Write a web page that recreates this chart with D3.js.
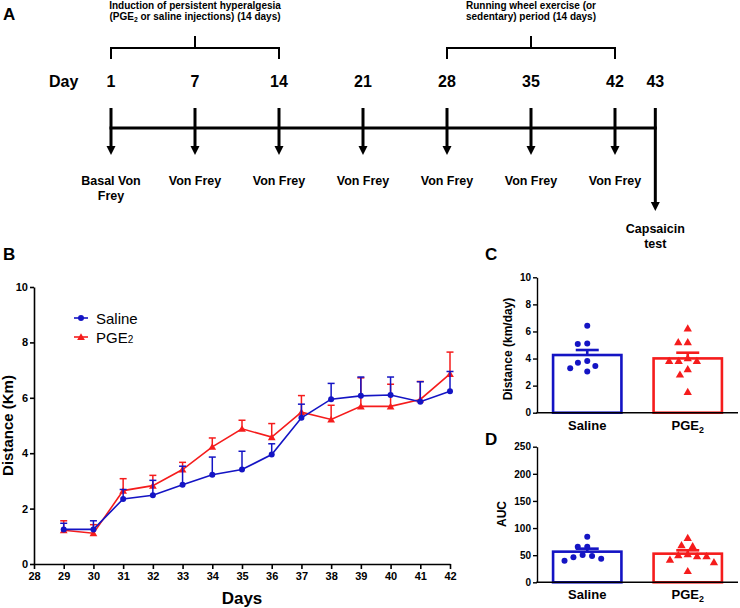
<!DOCTYPE html>
<html><head><meta charset="utf-8">
<script src="https://cdn.jsdelivr.net/npm/d3@7"></script>
<style>body{margin:0;background:#fff} svg{display:block;font-family:Arial,"Liberation Sans",sans-serif}</style>
</head><body><svg id="c" width="740" height="608"></svg>
<script>
// ---------- DATA ----------
const timelineDays = ["1","7","14","21","28","35","42","43"];
const timelineSlots = [0,1,2,3,4,5,6,6.48];
const timelineTests = [["Basal Von","Frey"],["Von Frey"],["Von Frey"],["Von Frey"],["Von Frey"],["Von Frey"],["Von Frey"],["Capsaicin","test"]];
const periodFrom = [0,4];
const periodTo = [2,6];
const periodText = [["Induction of persistent hyperalgesia","(PGE₂ or saline injections) (14 days)"],["Running wheel exercise (or","sedentary) period (14 days)"]];

const days = [29,30,31,32,33,34,35,36,37,38,39,40,41,42];
const salineMean = [1.25,1.25,2.35,2.48,2.86,3.22,3.41,3.95,5.28,5.95,6.07,6.10,5.86,6.24];
const salineSem  = [0.22,0.31,0.34,0.54,0.67,0.64,0.66,0.39,0.49,0.57,0.68,0.65,0.72,0.71];
const pgeMean    = [1.22,1.11,2.65,2.83,3.41,4.23,4.88,4.58,5.48,5.22,5.69,5.69,5.94,6.86];
const pgeSem     = [0.34,0.31,0.43,0.37,0.26,0.32,0.31,0.49,0.60,0.51,1.03,0.80,0.65,0.79];
const xTicksB = [28,29,30,31,32,33,34,35,36,37,38,39,40,41,42];
const yTicksB = [0,2,4,6,8,10];

const groups = ["Saline","PGE₂"];
const distSaline = [6.43,5.12,5.07,3.82,3.69,3.45,3.28,3.05];
const distPge = [6.23,5.22,5.22,4.04,3.84,3.84,3.84,3.23,2.83,1.55];
const distMean = [4.26,4.01];
const distSem = [0.37,0.42];
const yTicksC = [0,2,4,6,8,10];

const aucSaline = [84,65.7,65.7,50.4,48.5,46,43.6,39.9];
const aucPge = [82,67,68.8,52,50.4,48.5,48.5,42,37.5,21];
const aucMean = [56.5,52.8];
const aucSem = [5.5,6.2];
const yTicksD = [0,50,100,150,200,250];

// ---------- STYLE ----------
const BLUE = "#1414c4", RED = "#f51c1c";
const svg = d3.select("#c");

function rich(textSel, str, size) {
  const parts = str.split("₂");
  parts.forEach((p, i) => {
    const t = textSel.append("tspan").text(p);
    if (i > 0) t.attr("dy", -size * 0.22);
    if (i < parts.length - 1) {
      textSel.append("tspan").attr("font-size", size * 0.68).attr("dy", size * 0.22).text("2");
    }
  });
  return textSel;
}

function label(x, y, s) {
  svg.append("text").attr("x", x).attr("y", y).attr("font-size", 17).attr("font-weight", "bold").text(s);
}

// ---------- PANEL A ----------
label(3, 20, "A");
const xA = d3.scaleLinear().domain([0, 6]).range([111, 615]);
const gA = svg.append("g");
gA.append("text").attr("x", 49).attr("y", 87).attr("font-size", 16).attr("font-weight", "bold").text("Day");
timelineDays.forEach((d, i) => {
  const x = xA(timelineSlots[i]);
  gA.append("text").attr("x", x).attr("y", 87).attr("text-anchor", "middle")
    .attr("font-size", 16).attr("font-weight", "bold").text(d);
  const tip = i === timelineDays.length - 1 ? 211 : 155;
  gA.append("line").attr("x1", x).attr("x2", x).attr("y1", 108).attr("y2", tip - 7)
    .attr("stroke", "#000").attr("stroke-width", 3);
  gA.append("path").attr("d", `M${x-4.5},${tip-9}L${x+4.5},${tip-9}L${x},${tip}Z`).attr("fill", "#000");
  const lines = timelineTests[i];
  const y0 = i === timelineDays.length - 1 ? 233 : 185;
  lines.forEach((ln, j) => {
    gA.append("text").attr("x", x).attr("y", y0 + j * 15).attr("text-anchor", "middle")
      .attr("font-size", 12.5).attr("font-weight", "bold").text(ln);
  });
});
gA.append("line").attr("x1", xA(0) - 1.5).attr("x2", xA(timelineSlots[7]) + 1.5).attr("y1", 128).attr("y2", 128)
  .attr("stroke", "#000").attr("stroke-width", 3);
periodFrom.forEach((f, i) => {
  const x1 = xA(f), x2 = xA(periodTo[i]), xm = (x1 + x2) / 2;
  gA.append("path").attr("d", `M${x1},59V48H${x2}V59M${xm},48V36`).attr("fill", "none")
    .attr("stroke", "#000").attr("stroke-width", 2);
  periodText[i].forEach((t, j) => {
    rich(gA.append("text").attr("x", xm).attr("y", 8.5 + j * 11.5).attr("text-anchor", "middle")
      .attr("font-size", 10).attr("font-weight", "bold"), t, 10);
  });
});

// ---------- PANEL B ----------
label(3, 260, "B");
const xB = d3.scaleLinear().domain([28, 42]).range([34, 450]);
const yB = d3.scaleLinear().domain([0, 10]).range([564, 287]);
const gB = svg.append("g");
const axB = gB.append("g").attr("transform", "translate(0,564)")
  .call(d3.axisBottom(xB).tickValues(xTicksB).tickFormat(d3.format("d")).tickSize(5).tickPadding(3).tickSizeOuter(0));
const ayB = gB.append("g").attr("transform", "translate(34,0)")
  .call(d3.axisLeft(yB).tickValues(yTicksB).tickSize(4).tickPadding(2).tickSizeOuter(0));
[axB, ayB].forEach(a => {
  a.selectAll("path,line").attr("stroke", "#000").attr("stroke-width", 1.6);
  a.selectAll("text").attr("font-size", 11).attr("font-weight", "bold").attr("fill", "#000").attr("font-family", "Arial,'Liberation Sans',sans-serif");
});
gB.append("text").attr("x", 242).attr("y", 604).attr("text-anchor", "middle").attr("font-size", 17).attr("font-weight", "bold").text("Days");
gB.append("text").attr("transform", `translate(13,${yB(5)}) rotate(-90)`).attr("text-anchor", "middle")
  .attr("font-size", 15).attr("font-weight", "bold").text("Distance (Km)");

const seriesB = [
  {mean: salineMean, sem: salineSem, color: BLUE, sym: null},
  {mean: pgeMean, sem: pgeSem, color: RED, sym: d3.symbolTriangle}
];
[seriesB[1], seriesB[0]].forEach(s => {
  const g = gB.append("g");
  days.forEach((d, i) => {
    const x = xB(d), y1 = yB(s.mean[i]), y2 = yB(s.mean[i] + s.sem[i]);
    g.append("line").attr("x1", x).attr("x2", x).attr("y1", y1).attr("y2", y2).attr("stroke", s.color).attr("stroke-width", 1.5);
    g.append("line").attr("x1", x - 3.5).attr("x2", x + 3.5).attr("y1", y2).attr("y2", y2).attr("stroke", s.color).attr("stroke-width", 1.5);
  });
  g.append("path").datum(days.map((d, i) => [d, s.mean[i]]))
    .attr("d", d3.line().x(p => xB(p[0])).y(p => yB(p[1])))
    .attr("fill", "none").attr("stroke", s.color).attr("stroke-width", 1.6);
  days.forEach((d, i) => {
    if (s.sym) {
      g.append("path").attr("d", d3.symbol(s.sym, 26)()).attr("transform", `translate(${xB(d)},${yB(s.mean[i]) + 0.8})`).attr("fill", s.color);
    } else {
      g.append("circle").attr("cx", xB(d)).attr("cy", yB(s.mean[i])).attr("r", 3).attr("fill", s.color);
    }
  });
});
// legend
const legB = gB.append("g");
[{name: "Saline", color: BLUE, sym: null, y: 318}, {name: "PGE₂", color: RED, sym: d3.symbolTriangle, y: 337}].forEach(l => {
  legB.append("line").attr("x1", 74).attr("x2", 88).attr("y1", l.y).attr("y2", l.y).attr("stroke", l.color).attr("stroke-width", 1.6);
  if (l.sym) legB.append("path").attr("d", d3.symbol(l.sym, 26)()).attr("transform", `translate(81,${l.y + 0.8})`).attr("fill", l.color);
  else legB.append("circle").attr("cx", 81).attr("cy", l.y).attr("r", 3).attr("fill", l.color);
  const t = legB.append("text").attr("x", 96).attr("y", l.y + 5.5).attr("font-size", 15);
  const parts = l.name.split("₂");
  t.append("tspan").text(parts[0]);
  if (parts.length > 1) t.append("tspan").attr("font-size", 10).text("2");
});

// ---------- PANELS C & D ----------
function swarm(values, yScale, D) {
  const placed = [];
  const order = values.map((v, i) => i).sort((a, b) => values[b] - values[a]);
  const out = new Array(values.length);
  order.forEach(i => {
    const y = yScale(values[i]);
    const blocked = [];
    placed.forEach(p => {
      const dy = Math.abs(p.y - y);
      if (dy < D) { const w = Math.sqrt(D * D - dy * dy); blocked.push([p.x - w, p.x + w]); }
    });
    const cands = [0];
    blocked.forEach(b => { cands.push(b[0], b[1]); });
    cands.sort((a, b) => Math.abs(a) - Math.abs(b) || a - b);
    let x = 0;
    for (const c of cands) {
      if (!blocked.some(b => c > b[0] + 1e-6 && c < b[1] - 1e-6)) { x = c; break; }
    }
    placed.push({x, y});
    out[i] = x;
  });
  return out;
}

function barPanel(opt) {
  const g = svg.append("g");
  const x = d3.scalePoint().domain(groups).range([537, 738]).padding(0.5);
  const y = d3.scaleLinear().domain([0, opt.yMax]).range([opt.y0, opt.y1]);
  const bw = x.step() * 0.68;
  const colors = [BLUE, RED];
  const pts = [opt.saline, opt.pge];
  groups.forEach((grp, i) => {
    const cx = x(grp), c = colors[i];
    g.append("rect").attr("x", cx - bw / 2).attr("y", y(opt.mean[i])).attr("width", bw)
      .attr("height", y(0) - y(opt.mean[i])).attr("fill", "#fff").attr("stroke", c).attr("stroke-width", 2.6);
    const ye = y(opt.mean[i] + opt.sem[i]);
    g.append("line").attr("x1", cx).attr("x2", cx).attr("y1", y(opt.mean[i])).attr("y2", ye).attr("stroke", c).attr("stroke-width", 2.6);
    g.append("line").attr("x1", cx - 11.5).attr("x2", cx + 11.5).attr("y1", ye).attr("y2", ye).attr("stroke", c).attr("stroke-width", 2.6);
    const offs = swarm(pts[i], y, 9.5);
    pts[i].forEach((v, k) => {
      if (i === 0) g.append("circle").attr("cx", cx + offs[k]).attr("cy", y(v)).attr("r", 3).attr("fill", c);
      else g.append("path").attr("d", d3.symbol(d3.symbolTriangle, 30)()).attr("transform", `translate(${cx + offs[k]},${y(v) + 0.8})`).attr("fill", c);
    });
  });
  const ay = g.append("g").attr("transform", "translate(537,0)")
    .call(d3.axisLeft(y).tickValues(opt.ticks).tickSize(4).tickPadding(2).tickSizeOuter(0));
  ay.selectAll("path,line").attr("stroke", "#000").attr("stroke-width", 1.4);
  ay.selectAll("text").attr("font-size", 10).attr("font-weight", "bold").attr("fill", "#000").attr("font-family", "Arial,'Liberation Sans',sans-serif");
  g.append("line").attr("x1", 536.3).attr("x2", 738).attr("y1", y(0)).attr("y2", y(0)).attr("stroke", "#000").attr("stroke-width", 1.4);
  groups.forEach(grp => {
    rich(g.append("text").attr("x", x(grp)).attr("y", y(0) + 17).attr("text-anchor", "middle")
      .attr("font-size", 13).attr("font-weight", "bold"), grp, 13);
  });
  g.append("text").attr("transform", `translate(${opt.labelX},${opt.labelY}) rotate(-90)`).attr("text-anchor", "middle")
    .attr("font-size", 12).attr("font-weight", "bold").text(opt.title);
}

label(485, 260, "C");
barPanel({saline: distSaline, pge: distPge, mean: distMean, sem: distSem, yMax: 10, y0: 412.7, y1: 277.3,
  ticks: yTicksC, title: "Distance (km/day)", labelX: 512, labelY: 349});
label(485, 445, "D");
barPanel({saline: aucSaline, pge: aucPge, mean: aucMean, sem: aucSem, yMax: 250, y0: 582.3, y1: 446.7,
  ticks: yTicksD, title: "AUC", labelX: 506, labelY: 514});
</script></body></html>
